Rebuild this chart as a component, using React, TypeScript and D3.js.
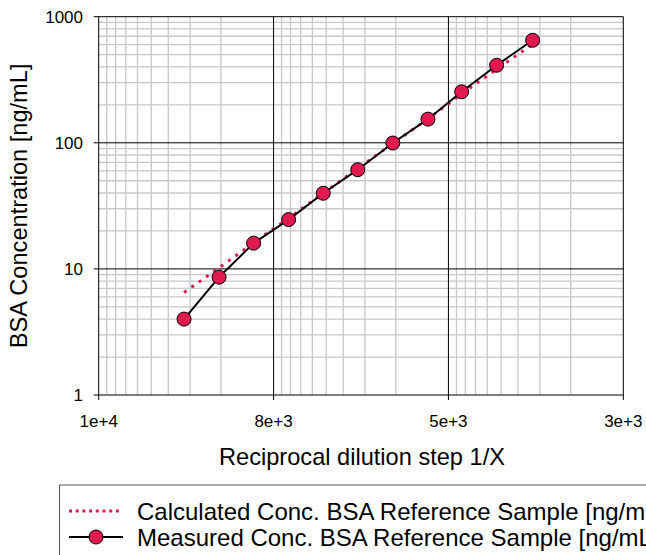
import React from "react";
import * as d3 from "d3";

const dilution = [3250, 2050, 1300, 820, 520, 330, 208, 131, 84, 53, 33];
const measured = [4.0, 8.6, 16.0, 24.6, 39.8, 61.2, 99.6, 154, 254, 412, 650];
const calculated = [6.5, 10.2, 16.1, 25.3, 39.8, 62.6, 98.5, 155, 244, 384, 604];

const xMajorTicks = [1e4, 1e3, 1e2, 1e1];
const xTickLabels = ["1e+4", "8e+3", "5e+3", "3e+3"];
const yMajorTicks = [1, 10, 100, 1000];
const yTickLabels = ["1", "10", "100", "1000"];

const seriesNames = [
  "Calculated Conc. BSA Reference Sample [ng/mL]",
  "Measured Conc. BSA Reference Sample [ng/mL]",
];

const W = 646;
const H = 555;
const L = 98.7;
const R = 623.3;
const T = 16.7;
const B = 395;
const RED = "#E0194F";
const FONT = "'Liberation Sans', Arial, sans-serif";

export default function App() {
  const x = d3.scaleLog().domain([1e4, 10]).range([L, R]);
  const y = d3.scaleLog().domain([1, 1000]).range([B, T]);

  const xMinor: number[] = [];
  [10, 100, 1000].forEach((d) => {
    for (let k = 2; k <= 9; k++) xMinor.push(k * d);
  });
  const yMinor: number[] = [];
  [1, 10, 100].forEach((d) => {
    for (let k = 2; k <= 9; k++) yMinor.push(k * d);
  });

  const line = d3
    .line<[number, number]>()
    .x((d) => x(d[0]))
    .y((d) => y(d[1]));

  const measPts: [number, number][] = dilution.map((d, i) => [d, measured[i]]);
  const calcPts: [number, number][] = dilution.map((d, i) => [d, calculated[i]]);

  return (
    <svg
      width={W}
      height={H}
      style={{ position: "absolute", left: 0, top: 0, background: "#fff" }}
      fontFamily={FONT}
    >
      <rect x={0} y={0} width={W} height={H} fill="#fff" />
      {xMinor.map((v) => (
        <line key={"xm" + v} x1={x(v)} x2={x(v)} y1={T} y2={B} stroke="#c8c8c8" strokeWidth={1.3} />
      ))}
      {yMinor.map((v) => (
        <line key={"ym" + v} x1={L} x2={R} y1={y(v)} y2={y(v)} stroke="#c8c8c8" strokeWidth={1.3} />
      ))}
      {xMajorTicks.map((v) => (
        <line key={"xM" + v} x1={x(v)} x2={x(v)} y1={T} y2={B + 5} stroke="#000" strokeWidth={1} />
      ))}
      {yMajorTicks.map((v) => (
        <line key={"yM" + v} x1={L - 5} x2={R} y1={y(v)} y2={y(v)} stroke="#000" strokeWidth={1} />
      ))}
      {yMajorTicks.map((v, i) => (
        <text key={"yl" + v} x={83} y={y(v) + 6} textAnchor="end" fontSize={17} fill="#000">
          {yTickLabels[i]}
        </text>
      ))}
      {xMajorTicks.map((v, i) => (
        <text key={"xl" + v} x={x(v)} y={426.5} textAnchor="middle" fontSize={17} fill="#000">
          {xTickLabels[i]}
        </text>
      ))}
      <text x={(L + R) / 2 + 1} y={464.5} textAnchor="middle" fontSize={23.6} fill="#000">
        Reciprocal dilution step 1/X
      </text>
      <text
        transform={`translate(27, ${(T + B) / 2}) rotate(-90)`}
        textAnchor="middle"
        fontSize={23.6}
        fill="#000"
      >
        BSA Concentration [ng/mL]
      </text>
      <path d={line(calcPts) || ""} fill="none" stroke={RED} strokeWidth={3} strokeDasharray="3 6" />
      <path d={line(measPts) || ""} fill="none" stroke="#000" strokeWidth={2} />
      {measPts.map((p, i) => (
        <circle key={"m" + i} cx={x(p[0])} cy={y(p[1])} r={7} fill={RED} stroke="#000" strokeWidth={1} />
      ))}
      <rect x={59.5} y={485} width={700} height={120} fill="none" stroke="#555" strokeWidth={1} />
      <line x1={69} x2={122} y1={511} y2={511} stroke={RED} strokeWidth={3} strokeDasharray="3 3.7" />
      <text x={137} y={519.5} fontSize={24} fill="#000">
        {seriesNames[0]}
      </text>
      <line x1={69} x2={123} y1={537} y2={537} stroke="#000" strokeWidth={2} />
      <circle cx={96} cy={537} r={7} fill={RED} stroke="#000" strokeWidth={1} />
      <text x={137} y={545.5} fontSize={24} fill="#000">
        {seriesNames[1]}
      </text>
    </svg>
  );
}
